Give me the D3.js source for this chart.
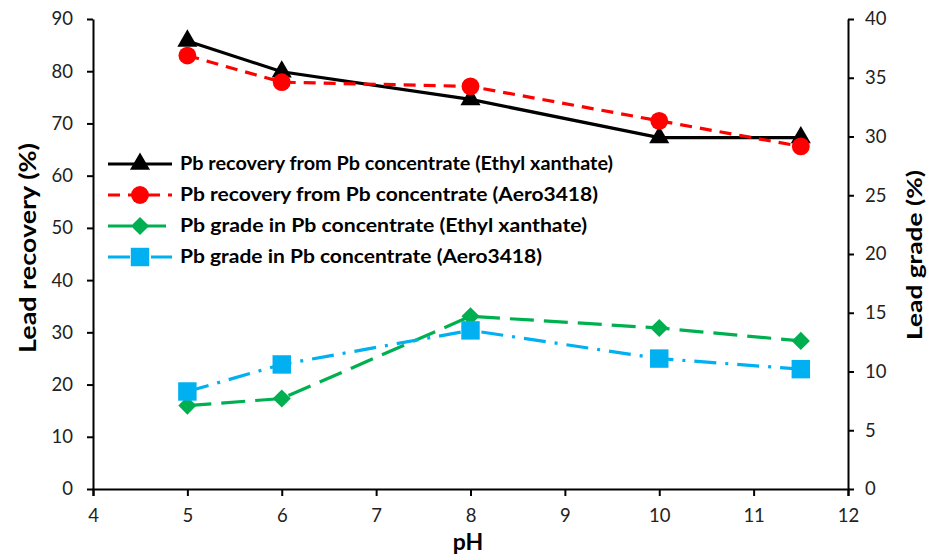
<!DOCTYPE html>
<html><head><meta charset="utf-8">
<script src="https://cdn.jsdelivr.net/npm/d3@7"></script>
<style>body{margin:0;background:#fff}svg{display:block}text{font-family:Lato,"Open Sans",sans-serif}</style>
</head><body><svg id="c" width="932" height="557"></svg>
<script>
const pH = [5, 6, 8, 10, 11.5];
const recEthyl = [85.8, 79.9, 74.6, 67.3, 67.3];
const recAero = [83.0, 77.9, 77.1, 70.5, 65.6];
const gradeEthyl = [7.1, 7.7, 14.7, 13.7, 12.6];
const gradeAero = [8.3, 10.6, 13.5, 11.1, 10.2];
const xTicks = [4,5,6,7,8,9,10,11,12];
const yLeftTicks = [0,10,20,30,40,50,60,70,80,90];
const yRightTicks = [0,5,10,15,20,25,30,35,40];
const seriesNames = [
  "Pb recovery from Pb concentrate (Ethyl xanthate)",
  "Pb recovery from Pb concentrate (Aero3418)",
  "Pb grade in Pb concentrate (Ethyl xanthate)",
  "Pb grade in Pb concentrate (Aero3418)"
];

const svg = d3.select("#c");
const L = 93, R = 848, T = 19, B = 489;
const x = d3.scaleLinear().domain([4,12]).range([L,R]);
const yL = d3.scaleLinear().domain([0,90]).range([B,T]);
const yR = d3.scaleLinear().domain([0,40]).range([B,T]);

function styleAxis(g){
  g.selectAll("path").attr("stroke","#000").attr("stroke-width",2);
  g.selectAll("line").attr("stroke","#000").attr("stroke-width",2);
  g.selectAll("text").attr("font-size",18.5).attr("fill","#222").attr("font-family","'Open Sans',sans-serif");
}
svg.append("g").attr("transform",`translate(0,${B})`)
  .call(d3.axisBottom(x).tickValues(xTicks).tickSize(7).tickSizeOuter(7).tickPadding(13))
  .call(styleAxis);
svg.append("g").attr("transform",`translate(${L},0)`)
  .call(d3.axisLeft(yL).tickValues(yLeftTicks).tickSize(6).tickSizeOuter(0).tickPadding(14))
  .call(styleAxis);
svg.append("g").attr("transform",`translate(${R},0)`)
  .call(d3.axisRight(yR).tickValues(yRightTicks).tickSize(6).tickSizeOuter(0).tickPadding(11))
  .call(styleAxis);

const series = [
  {vals: recEthyl, y: yL, color:"#000000", dash:null, marker:"triangle"},
  {vals: recAero, y: yL, color:"#ff0000", dash:"12,8", marker:"circle"},
  {vals: gradeEthyl, y: yR, color:"#00b050", dash:"24,10", marker:"diamond"},
  {vals: gradeAero, y: yR, color:"#00b0f0", dash:"22,9,3,9", marker:"square"}
];
const sym = {
  triangle: {gen: d3.symbol().type(d3.symbolTriangle).size(175), rot: 0},
  circle: {gen: d3.symbol().type(d3.symbolCircle).size(250), rot: 0},
  diamond: {gen: d3.symbol().type(d3.symbolSquare).size(165), rot: 45},
  square: {gen: d3.symbol().type(d3.symbolSquare).size(340), rot: 0}
};

series.forEach(s => {
  const line = d3.line().x((d,i)=>x(pH[i])).y(d=>s.y(d));
  svg.append("path").datum(s.vals).attr("d",line).attr("fill","none")
    .attr("stroke",s.color).attr("stroke-width",3.2)
    .attr("stroke-dasharray",s.dash);
  const m = sym[s.marker];
  svg.selectAll(null).data(s.vals).enter().append("path")
    .attr("d",m.gen())
    .attr("transform",(d,i)=>`translate(${x(pH[i])},${s.y(d)}) rotate(${m.rot})`)
    .attr("fill",s.color);
});

// Legend
const legY = [164, 195, 226, 257];
const legW = [433, 418, 407, 362];
series.forEach((s,i) => {
  const g = svg.append("g");
  g.append("line").attr("x1",108).attr("x2",172).attr("y1",legY[i]).attr("y2",legY[i])
    .attr("stroke",s.color).attr("stroke-width",3.2).attr("stroke-dasharray",s.dash);
  const m = sym[s.marker];
  g.append("path").attr("d",m.gen()).attr("transform",`translate(140,${legY[i]}) rotate(${m.rot})`).attr("fill",s.color);
  g.append("text").attr("x",180).attr("y",legY[i]).attr("dy","0.36em")
    .attr("font-size",18).attr("font-weight","bold").attr("fill","#000")
    .attr("textLength",legW[i]).attr("lengthAdjust","spacingAndGlyphs").text(seriesNames[i]);
});

// Axis titles
svg.append("text").attr("transform",`translate(36,248) rotate(-90)`)
  .attr("text-anchor","middle").attr("font-size",23).attr("font-weight","bold")
  .attr("textLength",210).attr("lengthAdjust","spacingAndGlyphs").text("Lead recovery (%)");
svg.append("text").attr("transform",`translate(922,255) rotate(-90)`)
  .attr("text-anchor","middle").attr("font-size",21).attr("font-weight","bold")
  .attr("textLength",170).attr("lengthAdjust","spacingAndGlyphs").text("Lead grade (%)");
svg.append("text").attr("x",468).attr("y",550)
  .attr("text-anchor","middle").attr("font-size",23).attr("font-weight","bold").text("pH");
</script></body></html>
